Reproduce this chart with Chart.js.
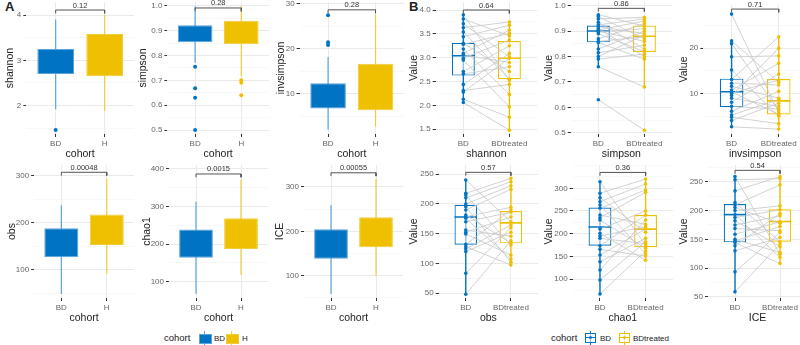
<!DOCTYPE html>
<html>
<head>
<meta charset="utf-8">
<script src="https://cdn.jsdelivr.net/npm/chart.js@4"></script>
<style>
  body { margin: 0; background: #fff; width: 800px; height: 345px; overflow: hidden; position: relative;
         font-family: "Liberation Sans", Arial, sans-serif; }
  canvas { position: absolute; }
  .t { position: absolute; white-space: nowrap; color: #222; }
  .d { position: absolute; }
</style>
</head>
<body>
<div class="t" style="left:5px;top:-1px;font-size:13px;font-weight:bold">A</div>
<div class="t" style="left:409px;top:-1px;font-size:13px;font-weight:bold">B</div>

<!-- legend A -->
<div class="t" style="left:164px;top:332px;font-size:9.5px">cohort</div>
<div class="d" style="left:204px;top:331px;width:1px;height:14px;background:#5AA4DE"></div>
<div class="d" style="left:199px;top:334px;width:11px;height:8px;background:#0073C2;border:0.5px solid #5AA4DE"></div>
<div class="t" style="left:214px;top:334px;font-size:8px">BD</div>
<div class="d" style="left:231px;top:331px;width:1px;height:14px;background:#F2CC38"></div>
<div class="d" style="left:226px;top:334px;width:11px;height:8px;background:#EFC000;border:0.5px solid #F2CC38"></div>
<div class="t" style="left:242px;top:334px;font-size:8px">H</div>

<!-- legend B -->
<div class="t" style="left:551px;top:332px;font-size:9.5px">cohort</div>
<div class="d" style="left:590px;top:331px;width:1.2px;height:14px;background:#0073C2"></div>
<div class="d" style="left:585px;top:333px;width:9px;height:8px;border:1.2px solid #0073C2;background:rgba(255,255,255,0.6)"></div>
<div class="d" style="left:586px;top:337px;width:9px;height:1.4px;background:#0073C2"></div>
<div class="d" style="left:589px;top:336px;width:3.4px;height:3.4px;border-radius:50%;background:#0073C2"></div>
<div class="t" style="left:600px;top:334px;font-size:8px">BD</div>
<div class="d" style="left:624px;top:331px;width:1.2px;height:14px;background:#EFC000"></div>
<div class="d" style="left:619px;top:333px;width:9px;height:8px;border:1.2px solid #EFC000;background:rgba(255,255,255,0.6)"></div>
<div class="d" style="left:620px;top:337px;width:9px;height:1.4px;background:#EFC000"></div>
<div class="d" style="left:623px;top:336px;width:3.4px;height:3.4px;border-radius:50%;background:#EFC000"></div>
<div class="t" style="left:633px;top:334px;font-size:8px">BDtreated</div>

<script>
// categories and metrics
const catA = ['BD', 'H'];
const catB = ['BD', 'BDtreated'];
const metrics = ['shannon', 'simpson', 'invsimpson', 'obs', 'chao1', 'ICE'];

// p-values and where their brackets sit (y value)
const pvalA = ['0.12', '0.28', '0.28', '0.00048', '0.0015', '0.00055'];
const pvalB = ['0.64', '0.86', '0.71', '0.57', '0.36', '0.54'];
const bracketA = [4.11, 0.991, 28.7, 307.9, 386.7, 332];
const bracketB = [4.0, 0.99, 28.6, 252.8, 335, 270];

// y tick labels
const yTicksA = [[2, 3, 4], [0.5, 0.6, 0.7, 0.8, 0.9, 1.0], [10, 20, 30], [100, 200, 300], [100, 200, 300, 400], [100, 200, 300]];
const yTicksB = [[1.5, 2, 2.5, 3, 3.5, 4], [0.5, 0.6, 0.7, 0.8, 0.9, 1.0], [10, 20], [50, 100, 150, 200, 250], [100, 150, 200, 250, 300], [50, 100, 150, 200, 250]];
const decA = [0, 1, 0, 0, 0, 0];
const decB = [1, 1, 0, 0, 0, 0];

// panel A boxes: [whisker low, q1, q3, whisker high]
const boxA_BD = [[1.92, 2.70, 3.25, 3.90], [0.771, 0.853, 0.921, 0.998], [2.1, 6.8, 12.4, 18.2], [49, 127, 189, 238], [68, 164, 239, 313], [59, 138, 205, 259]];
const boxA_H  = [[1.88, 2.65, 3.58, 4.0], [0.715, 0.845, 0.940, 0.998], [2.8, 6.4, 16.7, 27.6], [92, 153, 218, 294], [118, 187, 269, 373], [100, 164, 232, 318]];
const outA_BD = [[1.46], [0.755, 0.668, 0.630, 0.5], [27.5, 21.5, 20.9], [], [], []];
const outA_H  = [[], [0.70, 0.69, 0.64], [], [], [], []];

// panel B boxes: [whisker low, q1, median, q3, whisker high]
const boxB_BD = [[2.06, 2.625, 3.04, 3.31, 3.90], [0.76, 0.856, 0.901, 0.922, 0.965], [2.7, 7.0, 10.4, 13.3, 21.6], [48, 131.5, 178, 198.4, 240], [67, 173.6, 214.8, 257.5, 314.6], [59, 144.8, 193, 211.5, 259]];
const boxB_BT = [[1.48, 2.55, 2.99, 3.35, 3.75], [0.68, 0.818, 0.88, 0.922, 0.955], [2.2, 5.4, 8.4, 13.2, 22.5], [97, 133.7, 168, 188, 243], [141, 170, 210, 241, 321], [108, 146, 181, 202.3, 259]];

// paired samples (same index = same subject)
const shannonBD = [3.90, 3.81, 3.71, 3.63, 3.54, 3.44, 3.30, 3.28, 3.18, 3.09, 3.06, 2.99, 2.95, 2.71, 2.66, 2.44, 2.31, 2.28, 2.13, 2.06];
const shannonBT = [2.53, 3.46, 3.02, 3.75, 2.55, 3.68, 2.71, 3.51, 2.23, 3.58, 2.90, 3.37, 1.97, 3.25, 2.81, 3.09, 2.44, 2.99, 1.75, 1.48];
const simpsonBD = [0.965, 0.958, 0.948, 0.935, 0.925, 0.918, 0.91, 0.905, 0.90, 0.897, 0.89, 0.87, 0.86, 0.855, 0.83, 0.815, 0.80, 0.79, 0.76, 0.63];
const simpsonBT = [0.92, 0.87, 0.955, 0.83, 0.948, 0.89, 0.80, 0.94, 0.86, 0.91, 0.82, 0.93, 0.878, 0.79, 0.90, 0.845, 0.885, 0.81, 0.68, 0.51];
const invsimpsonBD = [27.5, 21.6, 21.0, 18.1, 15.2, 13.1, 12.3, 11.6, 10.8, 10.4, 10.1, 9.6, 9.0, 8.1, 7.2, 6.1, 5.3, 4.8, 4.1, 2.7];
const invsimpsonBT = [5.8, 12.5, 6.3, 18.3, 5.0, 22.5, 11.9, 9.0, 16.7, 5.4, 13.0, 20.0, 7.2, 14.3, 6.6, 10.5, 8.7, 3.4, 7.9, 2.2];
const obsBD = [240, 217.6, 214.8, 210, 199.7, 195, 189.6, 181.3, 178.4, 175.7, 170, 156, 152.3, 149.4, 132, 128.2, 124.3, 120, 83.6, 48.3];
const obsBT = [170, 242.8, 131, 237.1, 230.4, 102, 224.3, 134.3, 194.1, 107.5, 185.8, 145.6, 177.9, 114.2, 189.6, 97.4, 164.5, 152.3, 160, 138.2];
const chao1BD = [314.6, 289, 279.3, 270.5, 263.2, 255.9, 241.1, 235.2, 230, 210, 200.8, 194.8, 189.7, 173.4, 165.4, 152.9, 138.1, 119.8, 97.8, 66.9];
const chao1BT = [175, 320.5, 203, 309.5, 155.8, 296.3, 220.6, 291.2, 167.7, 250, 141.2, 215.4, 178, 241.1, 150.7, 210.3, 189.7, 230, 182.2, 161.7];
const iceBD = [259.2, 253.5, 234.3, 214, 210, 205.3, 200, 193.1, 187.9, 182.2, 175, 168.8, 158.9, 150, 147.4, 144.4, 138.7, 130, 93.5, 58.7];
const iceBT = [124.1, 255.7, 259.2, 145.7, 244.8, 178, 208.2, 118.4, 201.3, 137.5, 190.9, 165, 180.4, 127, 172.3, 108, 195, 153.1, 161.8, 142];
const pairsBD = [shannonBD, simpsonBD, invsimpsonBD, obsBD, chao1BD, iceBD];
const pairsBT = [shannonBT, simpsonBT, invsimpsonBT, obsBT, chao1BT, iceBT];

// page layout of each plot area (pixels) and its y range
const layoutA = [
  { left: 26.3, right: 134.1, top: 2, bottom: 134, tOff: 15.3, ymin: 1.373, ymax: 4.287 },
  { left: 167.4, right: 268.6, top: 2, bottom: 134, tOff: 24, ymin: 0.484, ymax: 1.015 },
  { left: 299.6, right: 403.7, top: 2, bottom: 134, tOff: 18, ymin: 1.11, ymax: 30.44 },
  { left: 34.1, right: 133.9, top: 165, bottom: 298, tOff: 21.8, ymin: 40.4, ymax: 323.4 },
  { left: 169, right: 268, top: 165, bottom: 298, tOff: 21.3, ymin: 56.6, ymax: 410.6 },
  { left: 304, right: 403, top: 165, bottom: 298, tOff: 23.3, ymin: 49.7, ymax: 349.6 }
];
const layoutB = [
  { left: 435.7, right: 537, top: 2, bottom: 134, tOff: 20.7, ymin: 1.40, ymax: 4.168 },
  { left: 570.7, right: 672, top: 2, bottom: 134, tOff: 20.7, ymin: 0.495, ymax: 1.015 },
  { left: 703.3, right: 807, top: 5, bottom: 134, tOff: 18.3, ymin: 1.12, ymax: 29.5 },
  { left: 438.7, right: 537.7, top: 165, bottom: 298, tOff: 23.7, ymin: 42.1, ymax: 265.1 },
  { left: 572.6, right: 673, top: 165, bottom: 298, tOff: 22.6, ymin: 58.1, ymax: 351.4 },
  { left: 708, right: 807, top: 165, bottom: 298, tOff: 23, ymin: 48, ymax: 279.3 }
];

const BLUE = '#0073C2', YELLOW = '#EFC000';
const BLUE_L = '#5AA4DE', YELLOW_L = '#F2CC38';
const FONT = '"Liberation Sans", Arial, sans-serif';
Chart.defaults.font.family = FONT;

const pvalPlugin = {
  id: 'pval',
  afterDatasetsDraw(chart) {
    const o = chart.options.plugins.pval;
    const { ctx, scales: { x, y } } = chart;
    ctx.save();
    ctx.font = '7.5px ' + FONT;
    ctx.fillStyle = '#333';
    ctx.textAlign = 'center';
    ctx.textBaseline = 'alphabetic';
    ctx.fillText(o.text, x.getPixelForValue(1.5), y.getPixelForValue(o.at) - 2.5);
    ctx.restore();
  }
};

function gridTicks(majors, min, max) {
  const step = majors[1] - majors[0];
  const t = [];
  let v = majors[0];
  while (v - step / 2 >= min) v -= step / 2;
  for (; v <= max + 1e-9; v += step / 2) {
    const isMajor = majors.some(m => Math.abs(m - v) < step * 1e-3);
    t.push({ value: +v.toFixed(6), minor: !isMajor });
  }
  return t;
}

function line(pts, color, width, order) {
  return { type: 'line', data: pts, borderColor: color, borderWidth: width, pointRadius: 0,
           fill: false, tension: 0, order: order };
}

function bracket(at, L) {
  const tip = (L.ymax - L.ymin) * 0.025;
  return line([{ x: 1, y: at - tip }, { x: 1, y: at }, { x: 2, y: at }, { x: 2, y: at - tip }], '#555', 1, 0);
}

function makeChart(L, datasets, cats, yMajors, dec, yTitle, xTitle, pText, pAt) {
  const padTop = 10, hx = 26;
  const cLeft = Math.round(L.left - L.tOff - 6.6);
  const wy = L.left - cLeft;
  const cTop = L.top - padTop;
  const canvas = document.createElement('canvas');
  canvas.width = Math.round(wy + L.right - L.left);
  canvas.height = Math.round(padTop + L.bottom - L.top + hx);
  canvas.style.left = cLeft + 'px';
  canvas.style.top = cTop + 'px';
  document.body.appendChild(canvas);

  new Chart(canvas, {
    type: 'scatter',
    data: { datasets },
    plugins: [pvalPlugin],
    options: {
      responsive: false,
      animation: false,
      layout: { padding: { top: padTop, left: 0, right: 0, bottom: 0 }, autoPadding: false },
      plugins: { legend: { display: false }, tooltip: { enabled: false }, pval: { text: pText, at: pAt } },
      scales: {
        x: {
          type: 'linear', min: 0.4, max: 2.6, offset: false,
          afterBuildTicks: s => { s.ticks = [{ value: 1 }, { value: 2 }]; },
          afterFit: s => { s.height = hx; s.paddingLeft = 0; s.paddingRight = 0; },
          ticks: { autoSkip: false, maxRotation: 0, padding: 2, color: '#666', font: { size: 8 },
                   callback: v => cats[Math.round(v) - 1] },
          grid: { color: '#EAEAEA', lineWidth: 1, tickLength: 3, tickColor: '#333', offset: false },
          border: { display: false },
          title: { display: true, text: xTitle, color: '#222', font: { size: 10.5 }, padding: 0 }
        },
        y: {
          type: 'linear', min: L.ymin, max: L.ymax,
          afterBuildTicks: s => { s.ticks = gridTicks(yMajors, L.ymin, L.ymax); },
          afterFit: s => { s.width = wy; s.paddingTop = 0; s.paddingBottom = 0; },
          ticks: { autoSkip: false, padding: 2, color: '#666', font: { size: 8 },
                   callback: (v, i, t) => t[i].minor ? '' : v.toFixed(dec) },
          grid: {
            color: c => c.tick && c.tick.minor ? '#F4F4F4' : '#EAEAEA',
            lineWidth: c => c.tick && c.tick.minor ? 0.6 : 1,
            tickColor: c => c.tick && c.tick.minor ? 'rgba(0,0,0,0)' : '#333',
            tickLength: 3
          },
          border: { display: false },
          title: { display: true, text: yTitle, color: '#222', font: { size: 10.5 }, padding: 0 }
        }
      }
    }
  });
}

// panel A: unpaired boxplots BD vs H
metrics.forEach((m, k) => {
  const L = layoutA[k];
  const bd = boxA_BD[k], h = boxA_H[k];
  const ds = [
    { type: 'bar', data: [{ x: 1, y: [bd[1], bd[2]] }, { x: 2, y: [h[1], h[2]] }],
      backgroundColor: [BLUE, YELLOW], borderColor: [BLUE_L, YELLOW_L], borderWidth: 1, borderSkipped: false,
      grouped: false, barPercentage: 0.75, categoryPercentage: 1, order: 3 },
    line([{ x: 1, y: bd[0] }, { x: 1, y: bd[3] }], BLUE_L, 1.2, 5),
    line([{ x: 2, y: h[0] }, { x: 2, y: h[3] }], YELLOW_L, 1.2, 5),
    { type: 'scatter', data: outA_BD[k].map(v => ({ x: 1, y: v })), backgroundColor: BLUE,
      pointRadius: 2, pointBorderWidth: 0, order: 1 },
    { type: 'scatter', data: outA_H[k].map(v => ({ x: 2, y: v })), backgroundColor: YELLOW,
      pointRadius: 2, pointBorderWidth: 0, order: 1 },
    bracket(bracketA[k], L)
  ];
  makeChart(L, ds, catA, yTicksA[k], decA[k], m, 'cohort', pvalA[k], bracketA[k]);
});

// panel B: paired boxplots BD vs BDtreated
metrics.forEach((m, k) => {
  const L = layoutB[k];
  const bd = boxB_BD[k], bt = boxB_BT[k];
  const a = pairsBD[k], b = pairsBT[k];
  const ds = [
    { type: 'bar', data: [{ x: 1, y: [bd[1], bd[3]] }, { x: 2, y: [bt[1], bt[3]] }],
      backgroundColor: 'rgba(255,255,255,0.55)', borderColor: [BLUE, YELLOW], borderWidth: 1.2, borderSkipped: false,
      grouped: false, barPercentage: 0.5, categoryPercentage: 1, order: 6 },
    line([{ x: 1, y: bd[0] }, { x: 1, y: bd[4] }], BLUE, 1.4, 7),
    line([{ x: 2, y: bt[0] }, { x: 2, y: bt[4] }], YELLOW, 1.4, 7),
    line([{ x: 0.75, y: bd[2] }, { x: 1.25, y: bd[2] }], BLUE, 1.6, 5),
    line([{ x: 1.75, y: bt[2] }, { x: 2.25, y: bt[2] }], YELLOW, 1.6, 5)
  ];
  a.forEach((v, i) => ds.push(line([{ x: 1, y: v }, { x: 2, y: b[i] }], '#C6C6C6', 0.8, 3)));
  ds.push({ type: 'scatter', data: a.map(v => ({ x: 1, y: v })), backgroundColor: BLUE,
            pointRadius: 1.8, pointBorderWidth: 0, order: 1 });
  ds.push({ type: 'scatter', data: b.map(v => ({ x: 2, y: v })), backgroundColor: YELLOW,
            pointRadius: 1.8, pointBorderWidth: 0, order: 1 });
  ds.push(bracket(bracketB[k], L));
  makeChart(L, ds, catB, yTicksB[k], decB[k], 'Value', m, pvalB[k], bracketB[k]);
});
</script>
</body>
</html>
